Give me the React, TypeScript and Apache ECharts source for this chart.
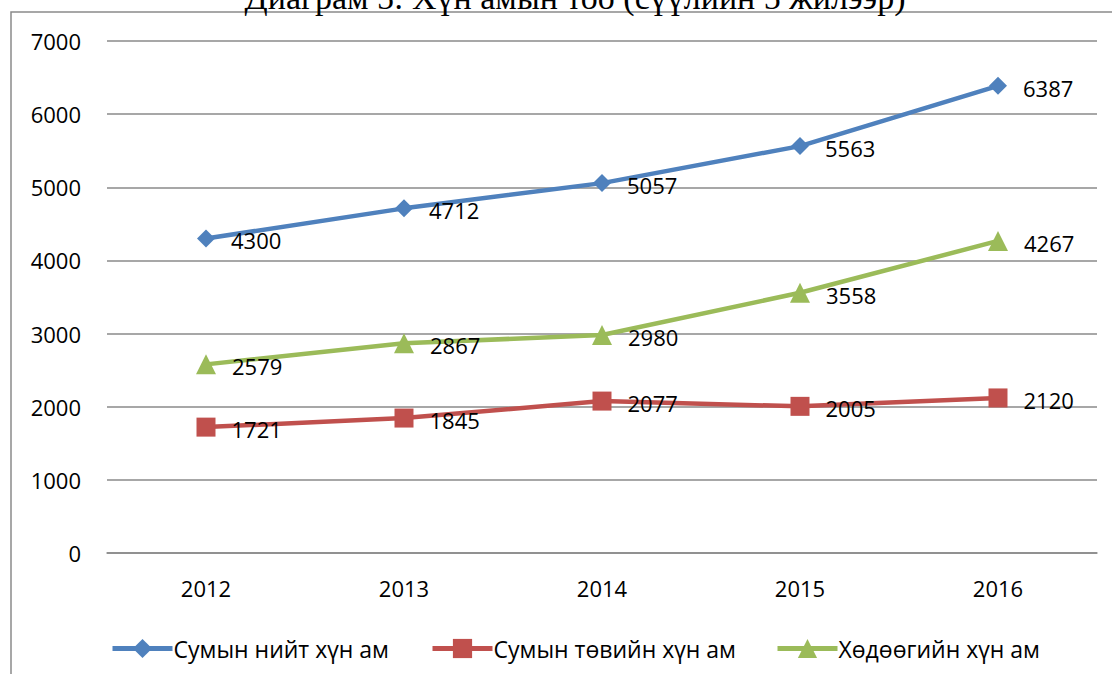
import React, { useEffect, useRef } from "react";
import * as echarts from "echarts";

const years = ["2012", "2013", "2014", "2015", "2016"];
const totalPop = [4300, 4712, 5057, 5563, 6387];
const centerPop = [1721, 1845, 2077, 2005, 2120];
const ruralPop = [2579, 2867, 2980, 3558, 4267];
const seriesNames = ["Сумын нийт хүн ам", "Сумын төвийн хүн ам", "Хөдөөгийн хүн ам"];
const titleText = "Диаграм 5: Хүн амын тоо (сүүлийн 5 жилээр)";

const FONT = "Open Sans";

export default function App() {
  const ref = useRef<HTMLDivElement>(null);
  useEffect(() => {
    const chart = echarts.init(ref.current!, null, { renderer: "svg" });
    const label = {
      show: true,
      position: "right",
      distance: 16,
      offset: [0, 2],
      color: "#000",
      fontFamily: FONT,
      fontSize: 22,
    };
    const mk = (name: string, data: number[], color: string, symbol: string, size: number) => ({
      type: "line",
      name,
      data,
      symbol,
      symbolSize: size,
      lineStyle: { color, width: 4.5 },
      itemStyle: { color },
      label,
    });
    const legendCommon = {
      top: 632,
      itemWidth: 60,
      itemHeight: 24,
      lineStyle: { width: 5 },
      textStyle: { fontFamily: FONT, fontSize: 23, color: "#000", padding: [0, 0, 0, -4] },
    };
    chart.setOption({
      animation: false,
      backgroundColor: "#fff",
      grid: { left: 107, right: 15, top: 41, bottom: 121, containLabel: false },
      xAxis: {
        type: "category",
        data: years,
        boundaryGap: true,
        axisLine: { show: true, lineStyle: { color: "#8a8a8a", width: 1.5 } },
        axisTick: { show: false },
        axisLabel: { color: "#000", fontFamily: FONT, fontSize: 22, margin: 24 },
      },
      yAxis: {
        type: "value",
        min: 0,
        max: 7000,
        interval: 1000,
        axisLine: { show: false },
        axisTick: { show: false },
        splitLine: { lineStyle: { color: "#8a8a8a", width: 1.5 } },
        axisLabel: {
          color: "#000",
          fontFamily: FONT,
          fontSize: 22,
          margin: 26,
          formatter: (v: number) => String(v),
        },
      },
      legend: [
        { ...legendCommon, left: 105, data: [seriesNames[0]] },
        { ...legendCommon, left: 425, data: [seriesNames[1]] },
        { ...legendCommon, left: 770, data: [seriesNames[2]] },
      ],
      series: [
        mk(seriesNames[0], totalPop, "#4F81BD", "diamond", 18),
        mk(seriesNames[1], centerPop, "#C0504D", "rect", 19),
        mk(seriesNames[2], ruralPop, "#9BBB59", "triangle", 20),
      ],
      graphic: [
        {
          type: "rect",
          shape: { x: 11, y: 12, width: 1200, height: 800 },
          style: { fill: "none", stroke: "#8a8a8a", lineWidth: 1.5 },
          silent: true,
        },
        {
          type: "text",
          x: 575,
          y: 14,
          style: {
            text: titleText,
            fontFamily: "Liberation Serif",
            fontSize: 34,
            fill: "#000",
            align: "center",
            verticalAlign: "bottom",
          },
          silent: true,
        },
      ],
    });
    return () => chart.dispose();
  }, []);
  return (
    <div
      ref={ref}
      style={{ position: "fixed", left: 0, top: 0, width: 1112, height: 674 }}
    />
  );
}
